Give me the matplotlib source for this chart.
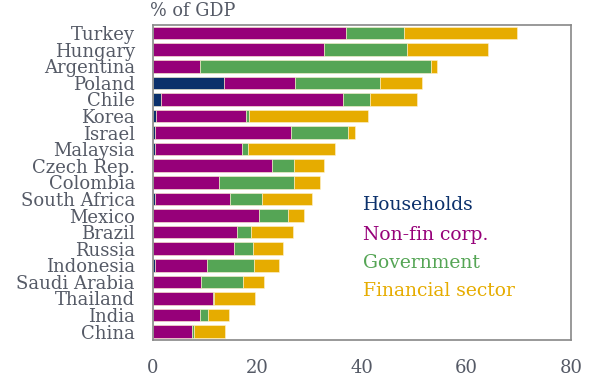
import matplotlib.pyplot as plt
import numpy as np

countries = ['Turkey', 'Hungary', 'Argentina', 'Poland', 'Chile', 'Korea', 'Israel',
             'Malaysia', 'Czech Rep.', 'Colombia', 'South Africa', 'Mexico', 'Brazil',
             'Russia', 'Indonesia', 'Saudi Arabia', 'Thailand', 'India', 'China']

# % of GDP by sector
households = [0.0, 0.0, 0.0, 13.6, 1.6, 0.5, 0.3, 0.4, 0.0, 0.0,
              0.4, 0.0, 0.0, 0.0, 0.4, 0.0, 0.0, 0.0, 0.0]
non_fin_corp = [36.9, 32.8, 8.9, 13.6, 34.7, 17.3, 26.1, 16.7, 22.7, 12.7,
                14.4, 20.2, 16.0, 15.4, 10.0, 9.1, 11.5, 8.9, 7.5]
government = [11.2, 15.8, 44.2, 16.2, 5.3, 0.5, 10.9, 1.1, 4.3, 14.3,
              6.0, 5.6, 2.8, 3.8, 9.0, 8.2, 0.2, 1.7, 0.3]
financial = [21.5, 15.4, 1.3, 8.1, 8.9, 22.9, 1.4, 16.7, 5.8, 5.0,
             9.7, 3.0, 7.9, 5.7, 4.7, 4.0, 7.9, 4.0, 6.0]

sectors = ['Households', 'Non-fin corp.', 'Government', 'Financial sector']
colors = ['#0b306b', '#960079', '#55a555', '#e6ac00']

plt.rcParams['font.family'] = ['DejaVu Serif']

fig = plt.figure(figsize=(6, 3.88), dpi=100)
ax = fig.add_axes([0.255, 0.124, 0.697, 0.812])

y = np.arange(len(countries))
left = np.zeros(len(countries))
for values, color in zip([households, non_fin_corp, government, financial], colors):
    ax.barh(y, values, left=left, height=0.76, color=color,
            edgecolor='#fff3d0', linewidth=0.4)
    left += np.array(values)

ax.set_ylim(len(countries) - 0.5, -0.5)
ax.set_xlim(0, 80)
ax.set_yticks(y)
ax.set_yticklabels(countries, fontsize=13, color='#555a66')
ax.set_xticks([0, 20, 40, 60, 80])
ax.tick_params(axis='x', length=0, pad=14, labelsize=13, labelcolor='#555a66')
ax.tick_params(axis='y', length=0, pad=13)
for spine in ax.spines.values():
    spine.set_color('#888888')
    spine.set_linewidth(1.2)

legend_y = [205, 235, 263, 291]
for name, color, ly in zip(sectors, colors, legend_y):
    fig.text(363 / 600, 1 - ly / 388, name, color=color, fontsize=13.5,
             va='center', ha='left')

fig.text(150 / 600, 1 - 11 / 388, '% of GDP', fontsize=12.7, color='#555a66',
         va='center', ha='left')

fig.savefig('out.png', dpi=100)
